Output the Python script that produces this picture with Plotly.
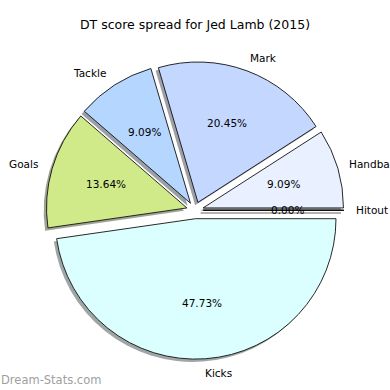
import math
import plotly.graph_objects as go

labels = ["Hitout", "Handball", "Mark", "Tackle", "Goals", "Kicks"]
values = [0, 4, 9, 4, 6, 21]
colors = ["#dce8ff", "#e9f0ff", "#c4d8ff", "#b5d6ff", "#d0ea8a", "#dafffe"]
explode = 0.06

W = H = 390
CX, CY = 195.0, 210.3   # pie centre in pixels
R = 140.4               # pie radius in pixels
SH = 0.02 * R           # shadow offset


def shadow_col(hexc):
    r, g, b = (int(hexc[i:i + 2], 16) for i in (1, 3, 5))
    f = lambda c: int(round(0.5 * 255 + 0.5 * 0.3 * c))
    return "rgb(%d,%d,%d)" % (f(r), f(g), f(b))


half = R * (1 + explode)


def dom(cx, cy):
    return dict(x=[(cx - half) / W, (cx + half) / W],
                y=[1 - (cy + half) / H, 1 - (cy - half) / H])


common = dict(labels=labels, values=values, sort=False, direction="counterclockwise",
              rotation=90, pull=[explode] * len(values), textinfo="none",
              hoverinfo="label+percent", showlegend=False)

fig = go.Figure()
fig.add_trace(go.Pie(**common, domain=dom(CX - SH, CY + SH),
                     marker=dict(colors=[shadow_col(c) for c in colors], line=dict(width=0))))
fig.add_trace(go.Pie(**common, domain=dom(CX, CY),
                     marker=dict(colors=colors, line=dict(color="#111111", width=0.9))))

total = sum(values)
annotations = []
shapes = []
cum = 0.0
for lab, v in zip(labels, values):
    a0 = 360.0 * cum / total
    cum += v
    a1 = 360.0 * cum / total
    mid = math.radians((a0 + a1) / 2)
    c, s = math.cos(mid), math.sin(mid)
    sx, sy = CX + explode * R * c, CY - explode * R * s
    # label
    lx, ly = sx + 1.1 * R * c, sy - 1.1 * R * s
    annotations.append(dict(x=lx / W, y=1 - ly / H, xref="paper", yref="paper",
                            text=lab, showarrow=False, borderpad=0,
                            xshift=-3 if c > 0 else 0,
                            xanchor="left" if c > 0 else "right", yanchor="middle",
                            font=dict(family="DejaVu Sans", size=10.5, color="#000")))
    px, py = sx + 0.6 * R * c, sy - 0.6 * R * s
    annotations.append(dict(x=px / W, y=1 - py / H, xref="paper", yref="paper",
                            text="%.2f%%" % (100.0 * v / total), showarrow=False,
                            xanchor="center", yanchor="middle",
                            font=dict(family="DejaVu Sans", size=10.5, color="#000")))
    if v == 0:
        ex, ey = sx + R * c, sy - R * s
        shapes.append(dict(type="line", xref="paper", yref="paper",
                           x0=(sx - SH) / W, y0=1 - (sy + SH) / H,
                           x1=(ex - SH) / W, y1=1 - (ey + SH) / H,
                           line=dict(color="#999999", width=1.5), layer="below"))
        shapes.append(dict(type="line", xref="paper", yref="paper",
                           x0=sx / W, y0=1 - sy / H, x1=ex / W, y1=1 - ey / H,
                           line=dict(color="#111111", width=1.2)))

annotations.append(dict(x=0, y=1 - 380 / H, xref="paper", yref="paper",
                        text="Dream-Stats.com", showarrow=False, xanchor="left",
                        yanchor="middle", borderpad=0,
                        font=dict(family="DejaVu Sans", size=11.5, color="#a0a0a0")))

fig.update_layout(
    width=W, height=H, margin=dict(l=0, r=0, t=0, b=0),
    paper_bgcolor="white", plot_bgcolor="white",
    title=dict(text="DT score spread for Jed Lamb (2015)", x=0.5, xanchor="center",
               y=1 - 25 / H, yanchor="middle",
               font=dict(family="DejaVu Sans", size=12.5, color="#000")),
    annotations=annotations, shapes=shapes,
)

fig.write_html("out.html", config={"displayModeBar": False},
               post_script="document.body.style.margin='0';document.body.style.overflow='hidden';")
